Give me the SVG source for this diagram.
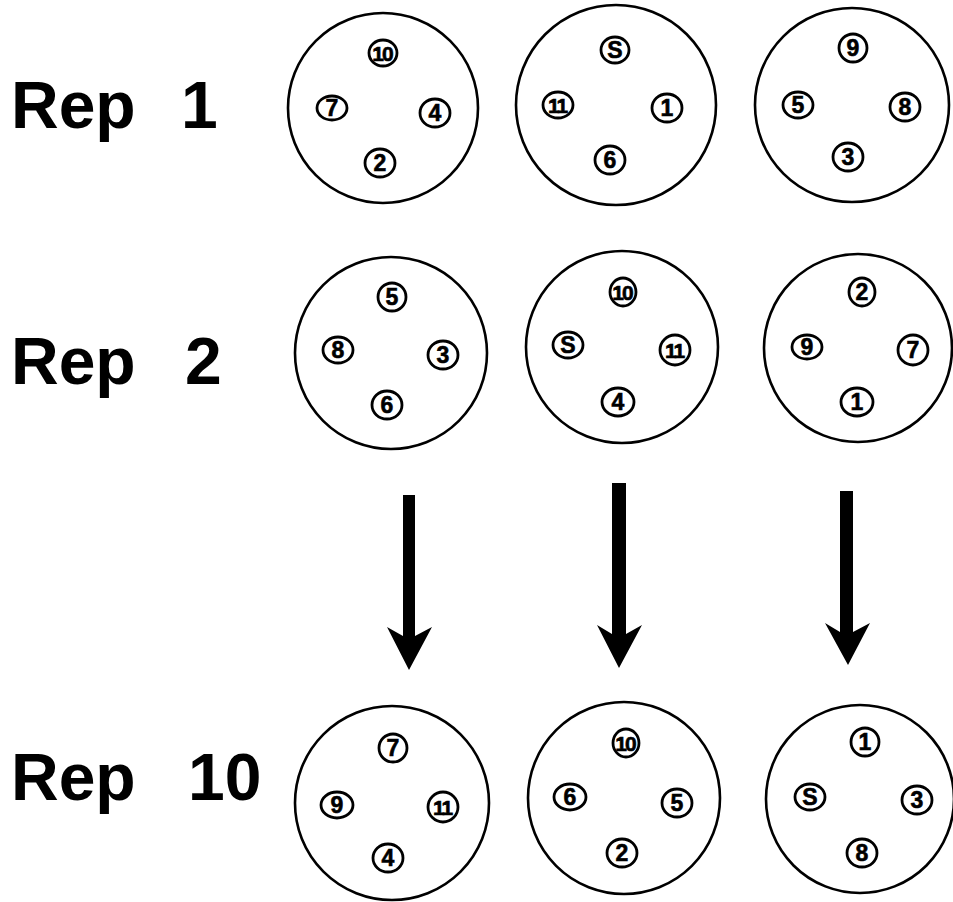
<svg xmlns="http://www.w3.org/2000/svg" width="953" height="902" viewBox="0 0 953 902">
<style>
.plot{fill:none;stroke:#000;stroke-width:2.6}
.b{fill:#fff;stroke:#000;stroke-width:2.8}
.n{font-family:"Liberation Sans",Arial,sans-serif;font-weight:bold;font-size:23px;text-anchor:middle;fill:#000;stroke:#000;stroke-width:0.6}
.nn{font-size:21px;letter-spacing:-2px}
.rep{font-family:"Liberation Sans",Arial,sans-serif;font-weight:bold;font-size:66px;fill:#000}
.arr{fill:#000}
</style>
<rect width="953" height="902" fill="#fff"/>
<g id="labels">
<text class="rep" x="11" y="128">Rep<tspan x="181">1</tspan></text>
<text class="rep" x="11" y="384">Rep<tspan x="185">2</tspan></text>
<text class="rep" x="11" y="800">Rep<tspan x="188">10</tspan></text>
</g>
<g id="rep1-plot1">
<circle class="plot" cx="383" cy="108" r="95"/>
<ellipse class="b" cx="383" cy="53" rx="14" ry="13"/><text class="n nn" x="382" y="61">10</text>
<ellipse class="b" cx="332" cy="108" rx="15" ry="12"/><text class="n" x="332" y="116">7</text>
<ellipse class="b" cx="435" cy="113" rx="15" ry="14"/><text class="n" x="435" y="121">4</text>
<ellipse class="b" cx="380" cy="163" rx="15" ry="14"/><text class="n" x="380" y="171">2</text>
</g>
<g id="rep1-plot2">
<circle class="plot" cx="616" cy="105" r="100"/>
<ellipse class="b" cx="615" cy="50" rx="14" ry="13"/><text class="n" x="615" y="58">S</text>
<ellipse class="b" cx="558" cy="105" rx="15" ry="13"/><text class="n nn" x="557" y="113">11</text>
<ellipse class="b" cx="667" cy="108" rx="15" ry="14"/><text class="n" x="667" y="116">1</text>
<ellipse class="b" cx="610" cy="160" rx="15" ry="14"/><text class="n" x="610" y="168">6</text>
</g>
<g id="rep1-plot3">
<circle class="plot" cx="852" cy="105" r="97"/>
<ellipse class="b" cx="853" cy="48" rx="14" ry="14"/><text class="n" x="853" y="56">9</text>
<ellipse class="b" cx="798" cy="105" rx="15" ry="13"/><text class="n" x="798" y="113">5</text>
<ellipse class="b" cx="905" cy="107" rx="15" ry="14"/><text class="n" x="905" y="115">8</text>
<ellipse class="b" cx="848" cy="157" rx="15" ry="14"/><text class="n" x="848" y="165">3</text>
</g>
<g id="rep2-plot1">
<circle class="plot" cx="391" cy="353" r="96"/>
<ellipse class="b" cx="392" cy="297" rx="14" ry="14"/><text class="n" x="392" y="305">5</text>
<ellipse class="b" cx="338" cy="350" rx="15" ry="13"/><text class="n" x="338" y="358">8</text>
<ellipse class="b" cx="443" cy="355" rx="15" ry="14"/><text class="n" x="443" y="363">3</text>
<ellipse class="b" cx="387" cy="405" rx="15" ry="14"/><text class="n" x="387" y="413">6</text>
</g>
<g id="rep2-plot2">
<circle class="plot" cx="622" cy="347" r="96"/>
<ellipse class="b" cx="623" cy="292" rx="13" ry="14"/><text class="n nn" x="622" y="300">10</text>
<ellipse class="b" cx="568" cy="345" rx="15" ry="13"/><text class="n" x="568" y="353">S</text>
<ellipse class="b" cx="675" cy="350" rx="15" ry="15"/><text class="n nn" x="674" y="358">11</text>
<ellipse class="b" cx="618" cy="402" rx="16" ry="14"/><text class="n" x="618" y="410">4</text>
</g>
<g id="rep2-plot3">
<circle class="plot" cx="858" cy="348" r="94"/>
<ellipse class="b" cx="862" cy="292" rx="13" ry="14"/><text class="n" x="862" y="300">2</text>
<ellipse class="b" cx="807" cy="347" rx="15" ry="12"/><text class="n" x="807" y="355">9</text>
<ellipse class="b" cx="913" cy="350" rx="15" ry="15"/><text class="n" x="913" y="358">7</text>
<ellipse class="b" cx="857" cy="402" rx="16" ry="14"/><text class="n" x="857" y="410">1</text>
</g>
<g id="rep10-plot1">
<circle class="plot" cx="392" cy="803" r="97"/>
<ellipse class="b" cx="393" cy="748" rx="14" ry="14"/><text class="n" x="393" y="756">7</text>
<ellipse class="b" cx="337" cy="805" rx="16" ry="13"/><text class="n" x="337" y="813">9</text>
<ellipse class="b" cx="443" cy="807" rx="15" ry="15"/><text class="n nn" x="442" y="815">11</text>
<ellipse class="b" cx="388" cy="858" rx="15" ry="14"/><text class="n" x="388" y="866">4</text>
</g>
<g id="rep10-plot2">
<circle class="plot" cx="624" cy="798" r="96"/>
<ellipse class="b" cx="626" cy="743" rx="13" ry="14"/><text class="n nn" x="625" y="751">10</text>
<ellipse class="b" cx="570" cy="797" rx="16" ry="13"/><text class="n" x="570" y="805">6</text>
<ellipse class="b" cx="677" cy="803" rx="15" ry="14"/><text class="n" x="677" y="811">5</text>
<ellipse class="b" cx="622" cy="853" rx="15" ry="14"/><text class="n" x="622" y="861">2</text>
</g>
<g id="rep10-plot3">
<circle class="plot" cx="860" cy="799" r="94"/>
<ellipse class="b" cx="865" cy="742" rx="14" ry="14"/><text class="n" x="865" y="750">1</text>
<ellipse class="b" cx="810" cy="797" rx="15" ry="13"/><text class="n" x="810" y="805">S</text>
<ellipse class="b" cx="917" cy="800" rx="15" ry="14"/><text class="n" x="917" y="808">3</text>
<ellipse class="b" cx="862" cy="853" rx="15" ry="14"/><text class="n" x="862" y="861">8</text>
</g>
<g id="connectors">
<path class="arr" d="M403,495 H415 V636 L432,627 L409,670 L387,627 L403,636 Z"/>
<path class="arr" d="M612,483 H626 V634 L642,625 L619,668 L597,625 L612,634 Z"/>
<path class="arr" d="M840,491 H853 V632 L870,623 L848,665 L825,623 L840,632 Z"/>
</g>
</svg>
